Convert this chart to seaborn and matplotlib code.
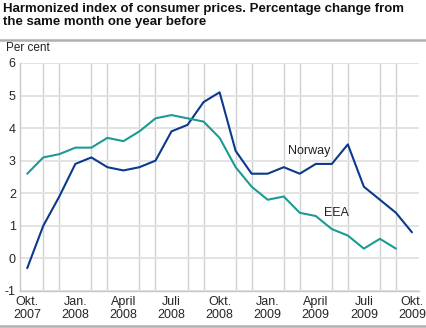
import matplotlib
matplotlib.use("Agg")
import matplotlib.pyplot as plt
import seaborn as sns
import pandas as pd

months = list(range(25))
norway = [-0.3, 1.0, 1.9, 2.9, 3.1, 2.8, 2.7, 2.8, 3.0, 3.9, 4.1, 4.8, 5.1,
          3.3, 2.6, 2.6, 2.8, 2.6, 2.9, 2.9, 3.5, 2.2, 1.8, 1.4, 0.8]
eea = [2.6, 3.1, 3.2, 3.4, 3.4, 3.7, 3.6, 3.9, 4.3, 4.4, 4.3, 4.2, 3.7,
       2.8, 2.2, 1.8, 1.9, 1.4, 1.3, 0.9, 0.7, 0.3, 0.6, 0.3]
tick_pos = [0, 3, 6, 9, 12, 15, 18, 21, 24]
tick_labels = ["Okt.\n2007", "Jan.\n2008", "April\n2008", "Juli\n2008", "Okt.\n2008",
               "Jan.\n2009", "April\n2009", "Juli\n2009", "Okt.\n2009"]
y_ticks = [-1, 0, 1, 2, 3, 4, 5, 6]

sns.set_theme(style="white")
plt.rcParams['font.family'] = ['Liberation Sans', 'DejaVu Sans']

df = pd.concat([
    pd.DataFrame({"month": months, "value": norway, "series": "Norway"}),
    pd.DataFrame({"month": months[:len(eea)], "value": eea, "series": "EEA"}),
])

fig = plt.figure(figsize=(4.26, 3.28), dpi=100)
ax = fig.add_axes([0.047, 0.113, 0.937, 0.695])
sns.lineplot(data=df, x="month", y="value", hue="series",
             palette={"Norway": "#0b3a8c", "EEA": "#1a9b94"},
             linewidth=1.5, legend=False, ax=ax)

ax.set_xlim(-0.45, 24.45)
ax.set_ylim(-1, 6)
ax.set_xticks(months, minor=True)
ax.set_xticks(tick_pos)
ax.set_xticklabels(tick_labels, fontsize=9, linespacing=1.05)
ax.set_yticks(y_ticks)
ax.set_yticklabels([str(v) for v in y_ticks], fontsize=9)
ax.grid(True, which="minor", axis="x", color="#d0d0d0", linewidth=1.0)
ax.grid(True, which="major", axis="y", color="#e3e3e3", linewidth=1.4)
ax.tick_params(axis="y", length=0, pad=3)
ax.tick_params(axis="x", length=0, pad=4)
ax.tick_params(axis="x", which="minor", length=0)
ax.set_xlabel("")
ax.set_ylabel("")
for s in ["top", "right"]:
    ax.spines[s].set_visible(False)
ax.spines["left"].set_color("#c8c8c8")
ax.spines["bottom"].set_color("#c8c8c8")
ax.spines["left"].set_linewidth(1.0)
ax.spines["bottom"].set_linewidth(1.0)

ax.text(17.6, 3.3, "Norway", fontsize=9, ha="center", va="center", color="#222222")
ax.text(19.3, 1.4, "EEA", fontsize=9, ha="center", va="center", color="#222222")

fig.text(0.008, 0.992, "Harmonized index of consumer prices. Percentage change from\nthe same month one year before",
         fontsize=9.5, fontweight="bold", ha="left", va="top", linespacing=1.12, color="#111111")
fig.text(0.014, 0.855, "Per cent", fontsize=8.5, ha="left", va="center", color="#222222")
fig.add_artist(plt.Line2D([0, 1], [0.878, 0.878], color="#b0b0b0", linewidth=1.8, transform=fig.transFigure))
fig.add_artist(plt.Line2D([0, 1], [0.006, 0.006], color="#b0b0b0", linewidth=1.8, transform=fig.transFigure))

fig.savefig("out.png", dpi=100)
